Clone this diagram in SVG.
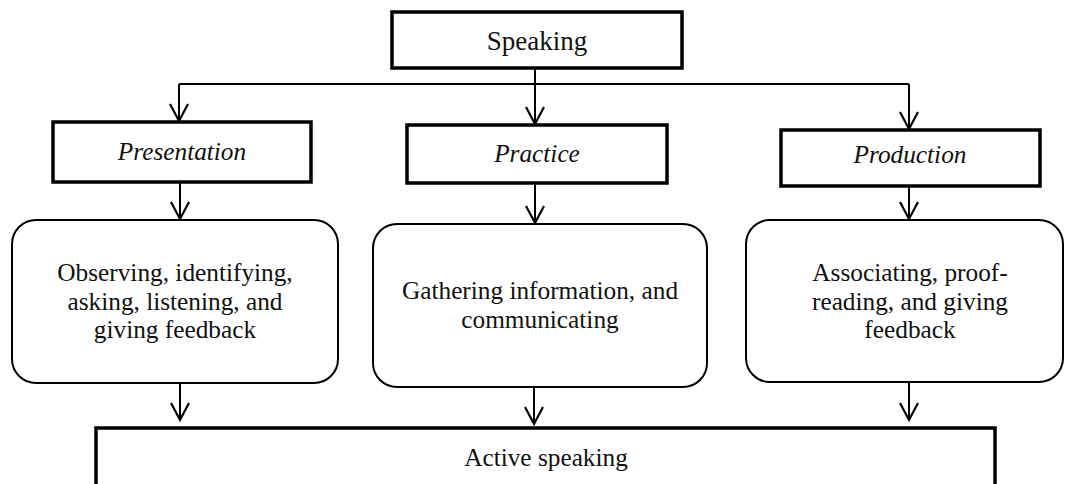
<svg xmlns="http://www.w3.org/2000/svg" width="1065" height="484" viewBox="0 0 1065 484">
<style>
text{font-family:"Liberation Serif","Times New Roman",serif;fill:#111;text-anchor:middle;font-size:25.3px}
.big{font-size:27px}
.box{fill:#fff;stroke:#000;stroke-width:3.5}
.rbox{fill:#fff;stroke:#000;stroke-width:2}
.conn{fill:none;stroke:#000;stroke-width:2}
.it{font-style:italic}
</style>
<defs>
<marker id="arr" markerUnits="userSpaceOnUse" markerWidth="24" markerHeight="24" viewBox="-21 -12 24 24" refX="0" refY="0" orient="auto">
<path d="M-17,-9 L0,0 L-17,9" fill="none" stroke="#000" stroke-width="2.2"/>
</marker>
</defs>
<g id="connectors">
<path class="conn" d="M535,68 V84"/>
<path class="conn" d="M179,84 H909"/>
<path class="conn" d="M179,84 V121" marker-end="url(#arr)"/>
<path class="conn" d="M535,84 V124" marker-end="url(#arr)"/>
<path class="conn" d="M909,84 V129" marker-end="url(#arr)"/>
<path class="conn" d="M180,182 V219" marker-end="url(#arr)"/>
<path class="conn" d="M535,183 V223" marker-end="url(#arr)"/>
<path class="conn" d="M909,186 V219" marker-end="url(#arr)"/>
<path class="conn" d="M180,383 V420" marker-end="url(#arr)"/>
<path class="conn" d="M534,387 V424" marker-end="url(#arr)"/>
<path class="conn" d="M909,382 V420" marker-end="url(#arr)"/>
</g>
<g id="speaking">
<rect class="box" x="392" y="12" width="290" height="56"/>
<text class="big" x="537" y="50">Speaking</text>
</g>
<g id="presentation">
<rect class="box" x="53" y="122" width="258" height="60"/>
<text class="it" x="182" y="160">Presentation</text>
</g>
<g id="practice">
<rect class="box" x="407" y="125" width="260" height="58"/>
<text class="it" x="537" y="162">Practice</text>
</g>
<g id="production">
<rect class="box" x="781" y="130" width="259" height="56"/>
<text class="it" x="910" y="163">Production</text>
</g>
<g id="observing">
<rect class="rbox" x="12" y="220" width="326" height="163" rx="24"/>
<text x="175" y="281">Observing, identifying,</text>
<text x="175" y="309.5">asking, listening, and</text>
<text x="175" y="338">giving feedback</text>
</g>
<g id="gathering">
<rect class="rbox" x="373" y="224" width="334" height="163" rx="24"/>
<text x="540" y="299">Gathering information, and</text>
<text x="540" y="328">communicating</text>
</g>
<g id="associating">
<rect class="rbox" x="746" y="220" width="317" height="162" rx="24"/>
<text x="910" y="281">Associating, proof-</text>
<text x="910" y="309.5">reading, and giving</text>
<text x="910" y="338">feedback</text>
</g>
<g id="active">
<rect class="box" x="96" y="428" width="899" height="80"/>
<text x="546" y="466">Active speaking</text>
</g>
</svg>
